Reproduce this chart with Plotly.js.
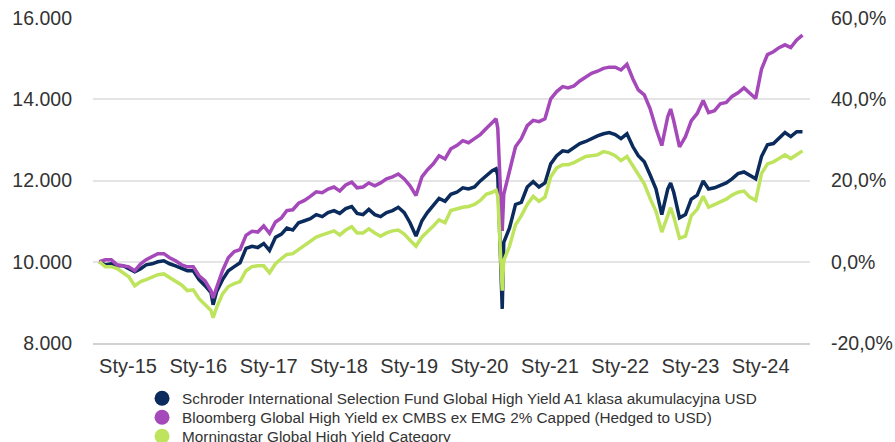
<!DOCTYPE html>
<html><head><meta charset="utf-8">
<script src="https://cdn.plot.ly/plotly-3.0.1.min.js"></script>
<style>html,body{margin:0;padding:0;background:#fff}#chart{width:895px;height:442px}</style>
</head><body><div id="chart"></div>
<script>
const dates = [
'2014-06-30','2014-07-31','2014-08-31','2014-09-30','2014-10-31','2014-11-30','2014-12-31',
'2015-01-31','2015-02-28','2015-03-31','2015-04-30','2015-05-31','2015-06-30','2015-07-31','2015-08-31','2015-09-30','2015-10-31','2015-11-30','2015-12-31',
'2016-01-31','2016-02-11','2016-02-29','2016-03-31','2016-04-30','2016-05-31','2016-06-30','2016-07-31','2016-08-31','2016-09-30','2016-10-31','2016-11-30','2016-12-31',
'2017-01-31','2017-02-28','2017-03-31','2017-04-30','2017-05-31','2017-06-30','2017-07-31','2017-08-31','2017-09-30','2017-10-31','2017-11-30','2017-12-31',
'2018-01-31','2018-02-28','2018-03-31','2018-04-30','2018-05-31','2018-06-30','2018-07-31','2018-08-31','2018-09-30','2018-10-31','2018-11-30','2018-12-31',
'2019-01-31','2019-02-28','2019-03-31','2019-04-30','2019-05-31','2019-06-30','2019-07-31','2019-08-31','2019-09-30','2019-10-31','2019-11-30','2019-12-31',
'2020-01-31','2020-02-20','2020-02-29','2020-03-23','2020-03-31','2020-04-30','2020-05-31','2020-06-30','2020-07-31','2020-08-31','2020-09-30','2020-10-31','2020-11-30','2020-12-31',
'2021-01-31','2021-02-28','2021-03-31','2021-04-30','2021-05-31','2021-06-30','2021-07-31','2021-08-31','2021-09-30','2021-10-31','2021-11-30','2021-12-31',
'2022-01-31','2022-02-28','2022-03-31','2022-04-30','2022-05-31','2022-06-30','2022-07-31','2022-08-15','2022-08-31','2022-09-30','2022-10-31','2022-11-30','2022-12-31',
'2023-01-31','2023-02-28','2023-03-31','2023-04-30','2023-05-31','2023-06-30','2023-07-31','2023-08-31','2023-09-30','2023-10-31','2023-11-30','2023-12-31',
'2024-01-31','2024-02-29','2024-03-31','2024-04-30','2024-05-31','2024-06-30'];

const schroder = [
10000,9925,9950,9900,9900,9830,9755,
9830,9925,9950,10000,10025,9950,9900,9830,9780,9780,9560,9410,
9240,8940,9260,9560,9780,9880,9975,10330,10380,10350,10450,10280,10600,
10680,10830,10780,10960,11010,11060,11160,11110,11210,11260,11190,11310,
11360,11190,11160,11290,11160,11110,11210,11260,11340,11210,10960,10630,
11010,11210,11390,11560,11490,11660,11710,11820,11790,11840,11990,12120,
12240,12290,12120,8840,10480,10830,11410,11460,11840,11970,11840,11940,12410,12610,
12730,12710,12810,12910,12960,13030,13100,13150,13180,13130,13030,13150,
12830,12610,12460,12140,11790,11160,11790,11940,11710,11080,11160,11540,11640,
11990,11790,11820,11870,11940,12040,12170,12210,12120,12040,12590,12880,
12910,13050,13180,13080,13200,13200];

const bloomberg = [
10000,10050,10050,9925,9900,9875,9780,
9950,10050,10125,10200,10200,10100,10025,9925,9875,9875,9655,9530,
9285,9110,9360,9780,10100,10250,10300,10650,10750,10730,10880,10700,10980,
11080,11260,11280,11440,11510,11610,11720,11700,11790,11840,11740,11890,
11960,11820,11840,11940,11870,11940,12040,12090,12160,12040,11870,11630,
12090,12260,12410,12610,12530,12780,12860,12980,12930,13030,13130,13280,
13430,13520,13280,10760,11660,12220,12830,13030,13350,13480,13450,13520,14010,14190,
14310,14280,14330,14450,14550,14640,14690,14760,14790,14790,14720,14860,
14500,14230,14110,13770,13280,12860,13570,13760,13470,12830,13080,13470,13650,
13970,13670,13720,13890,13920,14070,14160,14280,14140,14020,14740,15100,
15170,15270,15340,15270,15460,15580];

const morningstar = [
10000,9880,9880,9830,9730,9630,9410,
9510,9560,9610,9680,9700,9610,9530,9430,9290,9310,9090,8940,
8800,8620,8870,9210,9390,9460,9510,9780,9880,9900,9900,9730,9950,
10080,10180,10200,10300,10400,10480,10610,10660,10710,10760,10660,10780,
10860,10710,10710,10810,10710,10630,10710,10760,10780,10680,10530,10380,
10610,10730,10880,11030,10960,11260,11310,11340,11360,11410,11510,11660,
11710,11760,11610,9290,10030,10380,10910,11130,11410,11610,11490,11590,12090,12310,
12390,12390,12440,12510,12590,12610,12630,12710,12680,12610,12490,12590,
12360,12140,11920,11560,11240,10730,11160,11330,11110,10580,10630,11130,11290,
11610,11340,11410,11460,11540,11640,11710,11740,11590,11510,12170,12410,
12460,12540,12630,12540,12630,12730];

const seriesNames = [
'Schroder International Selection Fund Global High Yield A1 klasa akumulacyjna USD',
'Bloomberg Global High Yield ex CMBS ex EMG 2% Capped (Hedged to USD)',
'Morningstar Global High Yield Category'];
const seriesColors = ['#0b2b5c','#a548ba','#bde45c'];

const xTickVals = ['2014-11-26','2015-11-26','2016-11-26','2017-11-26','2018-11-26','2019-11-26','2020-11-26','2021-11-26','2022-11-26','2023-11-26'];
const xTickText = ['Sty-15','Sty-16','Sty-17','Sty-18','Sty-19','Sty-20','Sty-21','Sty-22','Sty-23','Sty-24'];
const yTickVals = [8000,10000,12000,14000,16000];
const yTickText = ['8.000','10.000','12.000','14.000','16.000'];
const y2TickVals = [-0.2,0,0.2,0.4,0.6];
const y2TickText = ['-20,0%','0,0%','20,0%','40,0%','60,0%'];

const FONT = 'Liberation Sans, Arial, sans-serif';
const allSeries = [schroder, bloomberg, morningstar];
const legendIds = ['legend','legend2','legend3'];

const traces = [];
allSeries.forEach((s, i) => {
  traces.push({x: dates, y: s, type: 'scatter', mode: 'lines', name: seriesNames[i],
    line: {color: seriesColors[i], width: 3.5}, showlegend: false, hoverinfo: 'x+y'});
});
allSeries.forEach((s, i) => {
  traces.push({x: [null], y: [null], type: 'scatter', mode: 'markers', name: seriesNames[i], yaxis: 'y2',
    marker: {color: seriesColors[i], size: 15}, legend: legendIds[i], showlegend: true});
});

const rowY = [398, 417, 436];
const legendBase = {x: 0.0684, xanchor: 'left', yanchor: 'top', bgcolor: 'rgba(0,0,0,0)',
  font: {family: FONT, size: 15.3, color: '#333'}, orientation: 'v'};
const layout = {
  width: 895, height: 442,
  margin: {l: 93, r: 85, t: 18, b: 99, autoexpand: false},
  paper_bgcolor: '#fff', plot_bgcolor: '#fff',
  showlegend: true,
  xaxis: {type: 'date', range: ['2014-05-28', '2024-08-08'], tickvals: xTickVals, ticktext: xTickText,
    showgrid: false, zeroline: false, showline: true, linecolor: '#d2d2d2', linewidth: 2, ticks: '',
    tickfont: {family: FONT, size: 20, color: '#333'}, ticklabelstandoff: 4},
  yaxis: {range: [8000, 16000], tickvals: yTickVals, ticktext: yTickText, showgrid: true,
    gridcolor: '#e4e4e4', gridwidth: 2, zeroline: false, showline: false, ticks: '',
    tickfont: {family: FONT, size: 19.5, color: '#333'}, ticklabelstandoff: 20},
  yaxis2: {overlaying: 'y', side: 'right', range: [-0.2, 0.6], tickvals: y2TickVals, ticktext: y2TickText,
    showgrid: false, zeroline: false, showline: false, ticks: '',
    tickfont: {family: FONT, size: 19.5, color: '#333'}, ticklabelstandoff: 20},
};
legendIds.forEach((id, i) => {
  layout[id] = Object.assign({}, legendBase, {y: (343 - (rowY[i] - 16.25)) / 325});
});
Plotly.newPlot('chart', traces, layout, {staticPlot: true, displayModeBar: false});
</script>
</body></html>
